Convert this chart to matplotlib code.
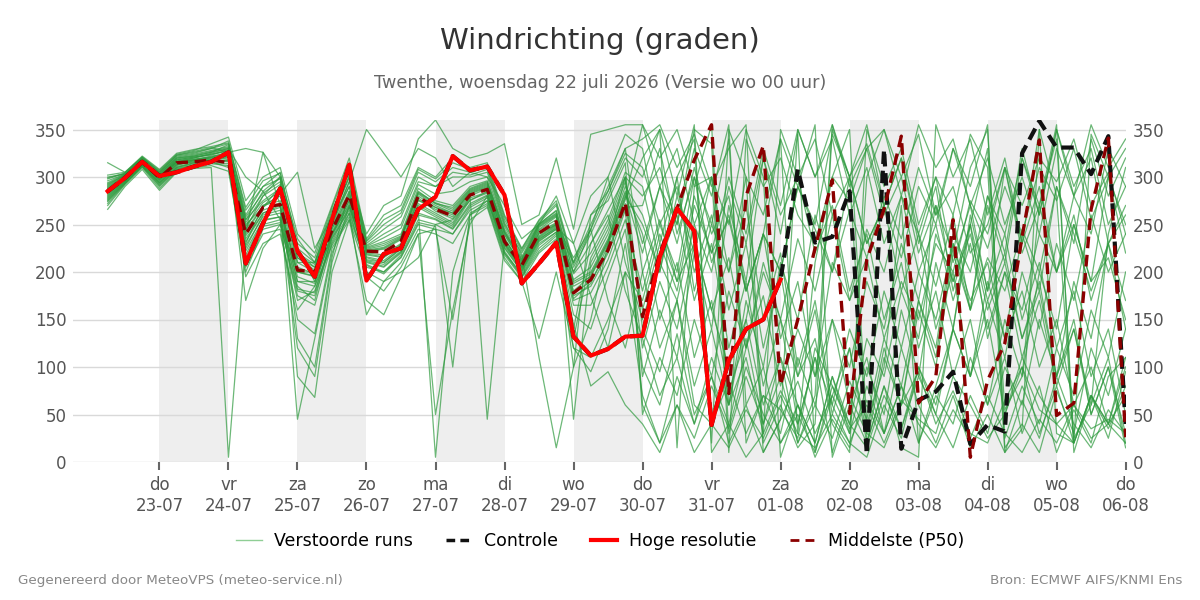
import matplotlib
matplotlib.use("Agg")
import matplotlib.pyplot as plt
from matplotlib.lines import Line2D
import pandas as pd

# 6-hourly steps from 22-07 06 UTC to 06-08 00 UTC
times = pd.date_range("2026-07-22 06:00", periods=60, freq="6h")

hoge_resolutie = [285, 299, 316, 301, 305, 311, 316, 326, 209, 251, 288, 222, 195, 255, 313,
                  191, 219, 225, 266, 279, 322, 307, 311, 281, 188, 209, 231, 132, 112, 119,
                  132, 133, 216, 267, 243, 39, 107, 140, 150, 192]

controle = hoge_resolutie + [308, 231, 237, 285, 8, 329, 14, 65, 74, 95, 19, 39, 32, 325,
                             359, 331, 331, 303, 343, 40]

middelste = [285, 299, 316, 299, 315, 316, 318, 315, 240, 268, 271, 202, 200, 244, 281,
             222, 221, 232, 280, 266, 259, 281, 287, 232, 207, 241, 253, 178, 192, 223,
             273, 153, 220, 267, 318, 355, 72, 280, 333, 81, 150, 225, 297, 51, 213,
             266, 343, 62, 90, 255, 5, 86, 125, 237, 339, 49, 62, 266, 341, 26]

verstoord = [
    [288, 301, 318, 303, 320, 322, 326, 334, 245, 280, 300, 215, 205, 255, 300,
     218, 215, 228, 275, 268, 262, 283, 290, 236, 205, 238, 250, 172, 188, 228, 276,
     320, 350, 15, 290, 300, 60, 150, 240, 340, 30, 210, 300, 350, 40, 100, 270, 20, 80, 140, 250, 330, 55, 90, 270, 340, 25, 60, 240, 310],
    [280, 296, 314, 296, 312, 318, 320, 322, 228, 258, 262, 190, 185, 240, 275,
     210, 205, 220, 260, 255, 245, 270, 280, 225, 200, 232, 245, 130, 215, 250, 300,
     140, 95, 170, 60, 40, 85, 30, 70, 55, 25, 120, 80, 35, 60, 20, 65, 45, 30, 90, 60, 25, 50, 110, 70, 40, 60, 35, 45, 30],
    [300, 303, 320, 305, 322, 325, 330, 338, 260, 290, 305, 225, 210, 262, 310,
     228, 240, 250, 295, 290, 300, 300, 305, 250, 220, 250, 265, 200, 230, 265, 300,
     280, 310, 250, 350, 335, 10, 340, 290, 320, 260, 230, 300, 275, 330, 350, 300, 345, 260, 290, 220, 250, 310, 270, 320, 295, 340, 270, 305, 240],
    [275, 294, 312, 292, 308, 312, 316, 310, 215, 250, 255, 170, 180, 235, 265,
     205, 200, 215, 250, 245, 240, 265, 275, 220, 195, 225, 240, 200, 245, 170, 120,
     200, 255, 190, 230, 160, 215, 120, 175, 80, 140, 90, 210, 170, 245, 200, 280, 240, 185, 260, 160, 215, 180, 245, 200, 290, 240, 180, 230, 260],
    [292, 302, 317, 300, 316, 318, 322, 325, 240, 270, 275, 205, 198, 248, 285,
     222, 225, 235, 282, 270, 262, 285, 292, 240, 210, 245, 258, 185, 195, 230, 280,
     250, 200, 300, 340, 20, 350, 300, 10, 45, 85, 30, 70, 120, 30, 15, 60, 95, 40, 75, 30, 20, 65, 100, 55, 40, 20, 70, 35, 80],
    [270, 292, 310, 288, 306, 310, 312, 306, 205, 240, 245, 150, 135, 225, 255,
     200, 190, 210, 245, 240, 230, 260, 270, 215, 190, 220, 235, 120, 95, 140, 230,
     100, 60, 135, 50, 90, 40, 120, 200, 150, 235, 180, 260, 170, 215, 130, 190, 150, 230, 200, 275, 240, 310, 220, 270, 200, 250, 190, 215, 150],
    [315, 305, 321, 307, 324, 328, 335, 342, 275, 300, 310, 240, 220, 270, 320,
     235, 260, 270, 310, 300, 320, 310, 315, 260, 225, 255, 275, 210, 250, 290, 330,
     340, 355, 310, 345, 290, 330, 355, 20, 60, 15, 40, 350, 300, 335, 270, 320, 240, 300, 260, 345, 310, 10, 35, 350, 30, 20, 345, 300, 330],
    [283, 298, 315, 298, 314, 316, 318, 320, 235, 262, 268, 200, 200, 245, 280,
     220, 218, 230, 278, 264, 256, 280, 288, 234, 208, 242, 252, 178, 190, 222, 272,
     160, 230, 180, 270, 220, 255, 180, 240, 200, 290, 245, 200, 265, 215, 280, 235, 310, 260, 330, 270, 225, 290, 240, 310, 275, 330, 255, 300, 220],
    [286, 300, 316, 301, 317, 320, 324, 328, 250, 268, 290, 225, 190, 250, 295,
     350, 325, 300, 330, 320, 290, 305, 300, 270, 235, 250, 280, 230, 280, 300, 345,
     330, 230, 300, 180, 250, 200, 300, 260, 340, 290, 355, 5, 60, 20, 110, 60, 170, 120, 240, 200, 280, 240, 320, 270, 355, 10, 70, 25, 95],
    [278, 295, 313, 294, 310, 315, 318, 316, 222, 255, 258, 185, 170, 240, 270,
     215, 210, 225, 270, 260, 250, 278, 284, 230, 204, 236, 248, 210, 260, 285, 330,
     200, 120, 170, 80, 140, 60, 110, 30, 75, 40, 110, 60, 140, 90, 180, 120, 200, 150, 230, 170, 210, 130, 180, 100, 150, 60, 100, 40, 70],
    [302, 305, 322, 308, 325, 329, 332, 336, 268, 296, 304, 230, 215, 268, 315,
     232, 250, 262, 305, 295, 310, 305, 310, 255, 222, 252, 270, 205, 240, 280, 320,
     300, 350, 280, 355, 10, 40, 5, 30, 350, 300, 340, 260, 300, 230, 270, 215, 290, 250, 330, 290, 355, 15, 40, 10, 75, 30, 120, 70, 140],
    [266, 290, 308, 286, 305, 309, 310, 5, 230, 270, 280, 210, 200, 250, 290,
     212, 208, 222, 265, 5, 200, 260, 275, 228, 202, 235, 246, 165, 165, 205, 255,
     180, 250, 200, 300, 250, 340, 60, 100, 20, 50, 10, 80, 40, 130, 90, 180, 130, 240, 190, 250, 170, 220, 130, 190, 90, 150, 50, 100, 30],
    [290, 301, 318, 300, 316, 320, 325, 330, 300, 285, 255, 120, 90, 210, 270,
     225, 230, 238, 285, 272, 268, 288, 295, 242, 212, 248, 260, 190, 200, 235, 285,
     240, 150, 210, 110, 170, 75, 130, 40, 90, 20, 60, 25, 85, 45, 130, 80, 170, 110, 230, 160, 280, 220, 330, 260, 350, 280, 320, 230, 270],
    [281, 297, 314, 297, 313, 317, 319, 322, 238, 265, 272, 45, 130, 220, 262,
     155, 190, 200, 215, 250, 255, 275, 285, 232, 206, 240, 250, 175, 185, 220, 268,
     270, 330, 240, 300, 210, 260, 180, 240, 200, 290, 250, 345, 300, 355, 270, 320, 230, 290, 180, 250, 130, 200, 160, 240, 200, 280, 240, 330, 290],
    [296, 303, 319, 304, 321, 324, 328, 332, 255, 285, 300, 90, 68, 200, 255,
     170, 155, 195, 240, 50, 160, 250, 280, 220, 198, 230, 242, 155, 140, 195, 245,
     120, 190, 140, 230, 160, 100, 150, 60, 110, 20, 70, 355, 300, 20, 80, 35, 90, 50, 15, 70, 30, 100, 60, 150, 90, 190, 130, 230, 170],
    [272, 293, 311, 290, 307, 311, 314, 312, 195, 230, 240, 160, 185, 228, 258,
     208, 200, 218, 255, 250, 240, 268, 278, 222, 196, 228, 242, 100, 150, 230, 300,
     60, 20, 90, 40, 110, 60, 170, 100, 210, 150, 260, 200, 300, 230, 270, 180, 240, 140, 200, 90, 150, 50, 100, 30, 80, 20, 70, 40, 110],
    [298, 304, 320, 306, 323, 327, 331, 326, 330, 326, 300, 235, 210, 265, 305,
     240, 270, 280, 340, 360, 330, 320, 325, 335, 250, 260, 320, 245, 345, 350, 355,
     355, 320, 350, 290, 355, 30, 90, 40, 110, 60, 20, 90, 30, 300, 350, 280, 355, 310, 340, 270, 320, 250, 300, 240, 330, 280, 355, 310, 340],
    [284, 299, 315, 299, 315, 318, 320, 324, 170, 225, 250, 200, 195, 240, 275,
     223, 226, 236, 283, 272, 264, 286, 293, 242, 211, 247, 259, 188, 198, 233, 283,
     220, 290, 230, 310, 240, 280, 180, 240, 130, 190, 90, 150, 60, 110, 30, 80, 20, 70, 40, 110, 60, 150, 90, 200, 140, 250, 190, 300, 250],
    [276, 294, 312, 293, 309, 313, 316, 318, 200, 245, 250, 180, 175, 232, 268,
     216, 212, 226, 272, 262, 252, 279, 45, 231, 205, 237, 249, 170, 178, 213, 265,
     90, 160, 110, 220, 140, 270, 190, 320, 240, 345, 10, 70, 30, 100, 50, 160, 90, 210, 140, 260, 180, 310, 230, 350, 280, 20, 70, 40, 100],
    [293, 302, 318, 301, 318, 321, 323, 329, 255, 275, 288, 210, 210, 255, 290,
     226, 232, 240, 288, 275, 270, 290, 296, 245, 214, 250, 262, 192, 205, 240, 290,
     260, 200, 280, 220, 300, 250, 350, 300, 5, 60, 20, 90, 40, 15, 70, 35, 100, 60, 140, 90, 170, 110, 200, 140, 230, 170, 260, 200, 240],
    [287, 300, 316, 300, 316, 319, 321, 326, 245, 268, 282, 305, 225, 258, 300,
     230, 245, 258, 300, 290, 305, 302, 308, 252, 218, 110, 15, 100, 260, 275, 315,
     50, 110, 70, 150, 90, 180, 120, 210, 150, 90, 130, 40, 10, 350, 290, 330, 250, 300, 210, 270, 180, 240, 150, 210, 120, 180, 90, 140, 50],
    [279, 296, 313, 295, 311, 315, 317, 318, 225, 260, 265, 190, 190, 238, 272,
     213, 210, 224, 268, 258, 248, 276, 283, 229, 203, 234, 247, 230, 175, 120, 200,
     170, 240, 190, 280, 220, 300, 240, 330, 270, 350, 300, 355, 290, 330, 260, 300, 220, 270, 190, 240, 160, 210, 130, 180, 90, 140, 50, 100, 15],
    [299, 304, 321, 305, 323, 326, 330, 335, 265, 290, 298, 220, 205, 260, 308,
     233, 255, 265, 308, 298, 315, 308, 312, 258, 224, 254, 272, 208, 245, 285, 325,
     310, 250, 290, 200, 260, 160, 230, 120, 200, 90, 160, 50, 120, 20, 80, 15, 5, 355, 300, 340, 260, 320, 230, 290, 200, 260, 170, 230, 140],
    [274, 293, 311, 291, 308, 312, 315, 314, 210, 248, 252, 175, 165, 230, 262,
     207, 198, 216, 252, 248, 100, 262, 272, 218, 194, 222, 238, 145, 80, 95, 60,
     40, 10, 60, 25, 80, 35, 100, 50, 20, 60, 5, 45, 15, 80, 30, 120, 60, 20, 70, 15, 50, 10, 65, 25, 90, 40, 15, 55, 30],
    [289, 301, 317, 301, 318, 321, 324, 327, 248, 273, 285, 215, 202, 252, 295,
     224, 228, 237, 284, 273, 266, 287, 294, 243, 213, 249, 261, 45, 210, 245, 295,
     230, 290, 250, 330, 280, 355, 20, 70, 30, 110, 60, 150, 100, 190, 140, 230, 170, 270, 220, 310, 350, 25, 80, 40, 120, 70, 160, 110, 200],
    [282, 297, 314, 297, 313, 316, 318, 321, 232, 262, 270, 195, 188, 242, 278,
     219, 216, 229, 276, 266, 258, 282, 289, 235, 207, 241, 251, 215, 245, 300, 210,
     150, 210, 170, 250, 200, 290, 230, 320, 260, 300, 220, 270, 180, 240, 150, 210, 120, 180, 90, 150, 60, 110, 30, 80, 10, 55, 20, 90, 110],
    [291, 302, 318, 302, 319, 322, 326, 330, 252, 280, 292, 220, 208, 256, 302,
     227, 236, 246, 292, 282, 285, 295, 300, 248, 216, 251, 264, 198, 220, 255, 305,
     290, 210, 260, 170, 230, 120, 190, 80, 150, 40, 110, 10, 70, 30, 120, 60, 160, 100, 220, 160, 270, 210, 320, 260, 350, 290, 330, 250, 290],
    [277, 295, 312, 294, 310, 314, 317, 317, 218, 254, 258, 182, 178, 236, 268,
     211, 206, 221, 262, 256, 246, 272, 281, 226, 201, 233, 245, 140, 230, 260, 180,
     130, 70, 110, 40, 90, 20, 60, 10, 45, 350, 300, 340, 260, 310, 230, 280, 200, 250, 170, 230, 140, 200, 110, 170, 80, 140, 60, 110, 20],
    [294, 303, 320, 303, 320, 323, 327, 331, 258, 283, 295, 130, 100, 215, 285,
     195, 180, 205, 240, 245, 150, 255, 268, 212, 190, 130, 200, 120, 110, 150, 200,
     70, 20, 60, 10, 40, 15, 55, 25, 70, 30, 15, 50, 20, 65, 30, 80, 40, 15, 55, 25, 70, 30, 10, 45, 20, 60, 25, 40, 20],
    [285, 299, 315, 299, 315, 318, 321, 324, 242, 326, 270, 200, 196, 246, 282,
     222, 224, 234, 280, 268, 260, 284, 291, 239, 209, 244, 255, 180, 196, 232, 278,
     355, 290, 330, 250, 300, 200, 270, 150, 220, 100, 170, 60, 20, 5, 60, 25, 100, 50, 140, 90, 190, 130, 240, 180, 290, 230, 340, 280, 320],
]

shaded_days = ["2026-07-23", "2026-07-25", "2026-07-27", "2026-07-29",
               "2026-07-31", "2026-08-02", "2026-08-04"]
tick_days = pd.date_range("2026-07-23", "2026-08-06", freq="D")
dagnamen = ["ma", "di", "wo", "do", "vr", "za", "zo"]
tick_labels = [f"{dagnamen[d.weekday()]}\n{d.strftime('%d-%m')}" for d in tick_days]

fig = plt.figure(figsize=(12, 6), dpi=100)
ax = fig.add_axes([0.061, 0.23, 0.877, 0.57])

for d in shaded_days:
    start = pd.Timestamp(d)
    ax.axvspan(start, start + pd.Timedelta(days=1), color="#eeeeee", lw=0, zorder=0)

green = "#2e9a3e"
for run in verstoord:
    ax.plot(times[:len(run)], run, color=green, lw=0.9, alpha=0.7, zorder=2)

ax.plot(times[:len(controle)], controle, color="#111111", lw=3, ls=(0, (3, 1.6)), zorder=3)
ax.plot(times[:len(middelste)], middelste, color="#8b0000", lw=2.4, ls=(0, (3.5, 2)), zorder=4)
ax.plot(times[:len(hoge_resolutie)], hoge_resolutie, color="#ff0000", lw=3, zorder=5)

ax.set_xlim(pd.Timestamp("2026-07-21 18:00"), pd.Timestamp("2026-08-06 00:00"))
ax.set_ylim(0, 360)
ax.set_yticks(range(0, 351, 50))
ax.set_xticks(tick_days)
ax.set_xticklabels(tick_labels)

ax.set_axisbelow(True)
ax.grid(axis="y", color="#d9d9d9", lw=1)
ax.grid(axis="x", visible=False)
for s in ax.spines.values():
    s.set_visible(False)
ax.tick_params(axis="y", length=0, labelsize=12, labelcolor="#555555", pad=5,
               labelright=True, right=False)
ax.tick_params(axis="x", length=6, width=1.5, color="#666666", labelsize=12,
               labelcolor="#555555", pad=4)

handles = [
    Line2D([], [], color="#8fce95", lw=1),
    Line2D([], [], color="#111111", lw=2.5, ls=(0, (2.5, 1.5))),
    Line2D([], [], color="#ff0000", lw=3),
    Line2D([], [], color="#8b0000", lw=2, ls=(0, (3.2, 2.2))),
]
labels = ["Verstoorde runs", "Controle", "Hoge resolutie", "Middelste (P50)"]
fig.legend(handles, labels, loc="center", bbox_to_anchor=(0.5, 0.098), ncol=4,
           frameon=False, fontsize=12.5, handlelength=1.5, handletextpad=0.7,
           columnspacing=1.9)

fig.text(0.5, 0.932, "Windrichting (graden)", ha="center", va="center",
         fontsize=21, color="#333333")
fig.text(0.5, 0.861, "Twenthe, woensdag 22 juli 2026 (Versie wo 00 uur)",
         ha="center", va="center", fontsize=12.7, color="#666666")
fig.text(0.015, 0.033, "Gegenereerd door MeteoVPS (meteo-service.nl)",
         ha="left", va="center", fontsize=9.7, color="#888888")
fig.text(0.985, 0.033, "Bron: ECMWF AIFS/KNMI Ens",
         ha="right", va="center", fontsize=9.7, color="#888888")

fig.savefig("out.png", dpi=100)
